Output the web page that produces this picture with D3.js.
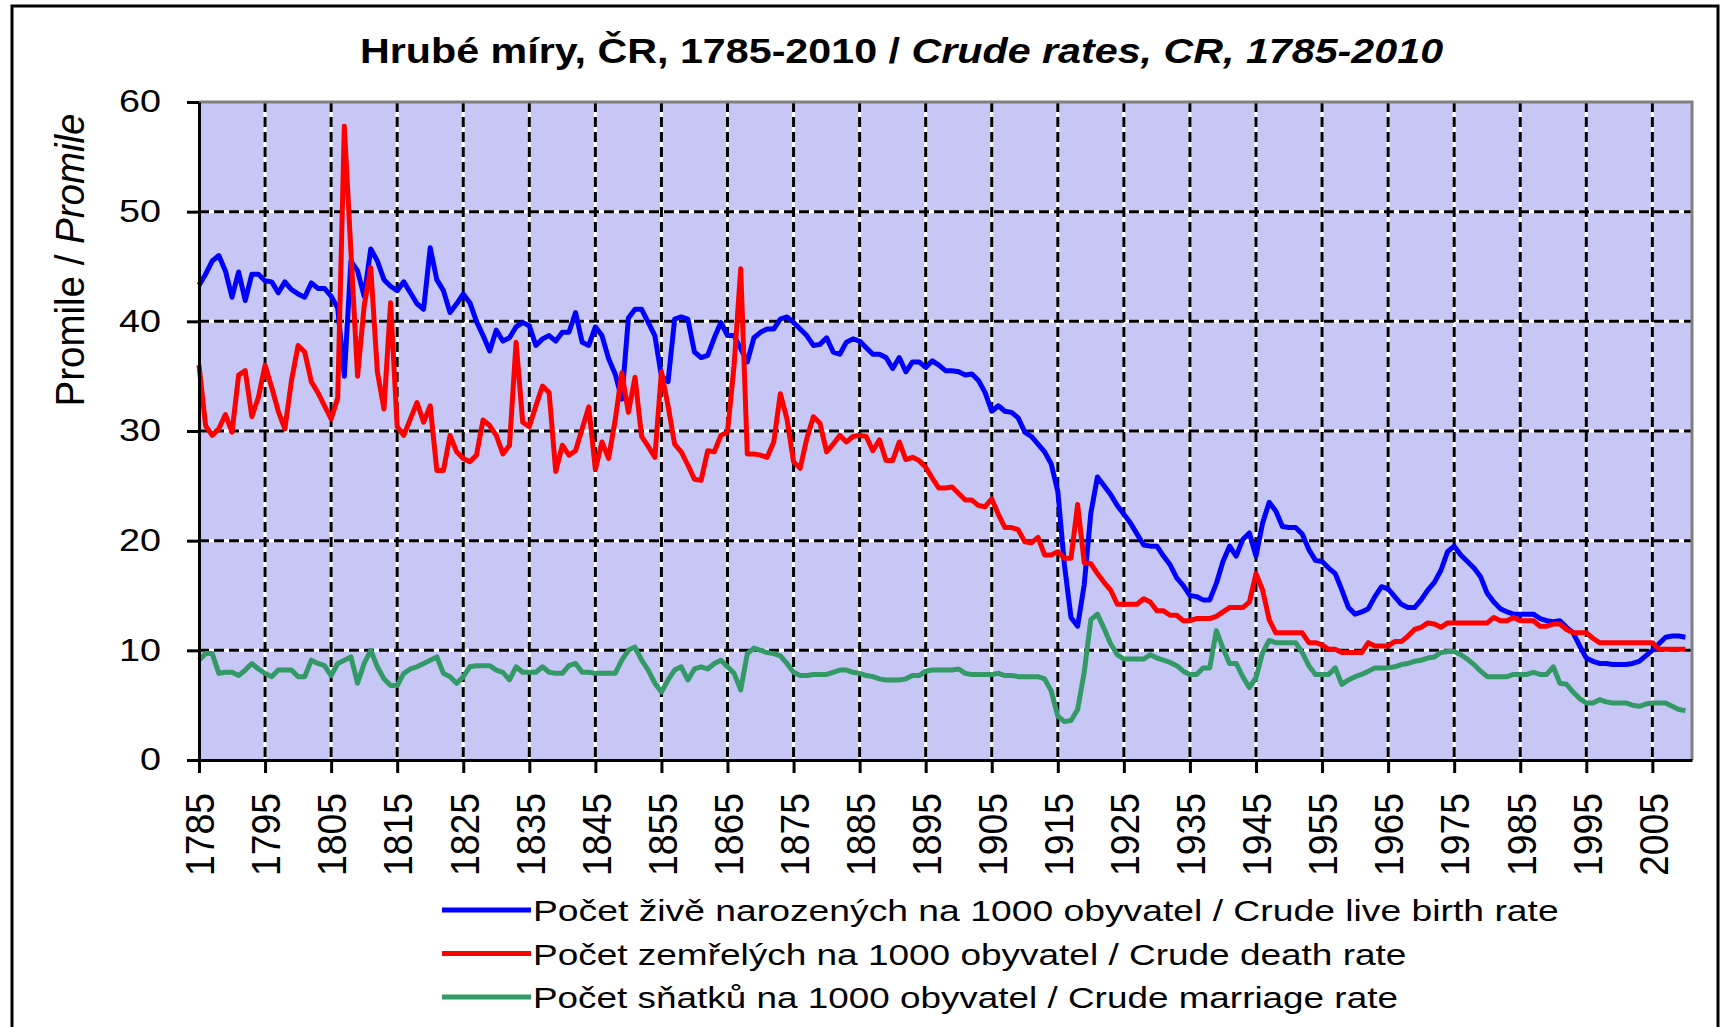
<!DOCTYPE html>
<html>
<head>
<meta charset="utf-8">
<script src="https://cdn.jsdelivr.net/npm/d3@7"></script>
<style>
  body { margin: 0; background: #fff; }
  text { font-family: "Liberation Sans", Arial, sans-serif; fill: #000; }
</style>
</head>
<body>
<div id="chart"></div>
<script>
/*********************************************
** Hrube miry, CR, 1785-2010
** one value per year, first value is 1785
**********************************************/
var firstYear = 1785;

var birthRate = [
  43.3, 44.3, 45.5, 46.0, 44.6, 42.2, 44.5, 41.9, 44.3, 44.3,
  43.7, 43.6, 42.6, 43.6, 42.9, 42.5, 42.2, 43.5, 43.0, 43.0,
  42.3, 41.2, 35.0, 45.5, 44.6, 42.3, 46.6, 45.5, 43.8, 43.2,
  42.8, 43.6, 42.6, 41.6, 41.1, 46.7, 43.8, 42.8, 40.8, 41.6,
  42.5, 41.7, 40.0, 38.7, 37.3, 39.2, 38.2, 38.5, 39.5, 39.9,
  39.6, 37.8, 38.4, 38.7, 38.2, 39.0, 39.0, 40.8, 38.1, 37.8,
  39.5, 38.7, 36.6, 35.2, 32.9, 40.3, 41.1, 41.1, 39.9, 38.7,
  35.0, 34.5, 40.2, 40.4, 40.2, 37.2, 36.7, 36.9, 38.5, 39.9,
  38.7, 38.7, 37.5, 36.3, 38.5, 39.0, 39.3, 39.3, 40.2, 40.4,
  39.9, 39.3, 38.7, 37.8, 37.9, 38.5, 37.2, 37.0, 38.1, 38.4,
  38.2, 37.6, 37.0, 37.0, 36.7, 35.7, 36.7, 35.4, 36.3, 36.3,
  35.8, 36.4, 36.0, 35.5, 35.5, 35.4, 35.1, 35.2, 34.6, 33.5,
  31.8, 32.3, 31.8, 31.7, 31.2, 29.9, 29.5, 28.8, 28.1, 27.0,
  24.5, 17.8, 13.0, 12.2, 16.0, 22.5, 25.8, 25.0, 24.2, 23.2,
  22.4, 21.6, 20.6, 19.6, 19.5, 19.5, 18.6, 17.8, 16.6, 15.9,
  15.0, 14.9, 14.6, 14.6, 16.1, 18.1, 19.5, 18.6, 20.1, 20.7,
  18.6, 21.6, 23.5, 22.7, 21.3, 21.2, 21.2, 20.6, 19.2, 18.2,
  18.1, 17.5, 17.0, 15.5, 13.9, 13.3, 13.5, 13.8, 14.9, 15.8,
  15.6, 14.9, 14.2, 13.9, 13.9, 14.6, 15.5, 16.2, 17.3, 19.0,
  19.5, 18.7, 18.1, 17.5, 16.7, 15.2, 14.4, 13.8, 13.5, 13.3,
  13.3, 13.3, 13.3, 12.9, 12.7, 12.6, 12.7, 12.1, 11.6, 10.4,
  9.3, 9.0, 8.8, 8.8, 8.7, 8.7, 8.7, 8.8, 9.0, 9.5,
  10.0, 10.6, 11.2, 11.3, 11.3, 11.2
];

var deathRate = [
  36.0, 30.5, 29.6, 30.2, 31.5, 29.9, 35.1, 35.5, 31.3, 33.1,
  36.0, 34.0, 31.8, 30.2, 34.6, 37.8, 37.2, 34.5, 33.5, 32.3,
  31.1, 33.0, 57.8, 46.3, 35.0, 41.4, 44.9, 35.4, 32.0, 41.7,
  30.4, 29.6, 31.1, 32.6, 30.8, 32.3, 26.4, 26.4, 29.6, 28.1,
  27.5, 27.2, 27.8, 31.0, 30.5, 29.6, 27.9, 28.7, 38.1, 30.8,
  30.4, 32.3, 34.1, 33.5, 26.3, 28.7, 27.8, 28.2, 30.2, 32.2,
  26.5, 29.0, 27.5, 31.0, 35.3, 31.7, 34.9, 29.5, 28.6, 27.6,
  35.4, 32.3, 28.8, 28.1, 26.9, 25.6, 25.5, 28.2, 28.1, 29.6,
  29.9, 36.0, 44.8, 27.9, 27.9, 27.8, 27.6, 29.0, 33.4, 31.1,
  27.2, 26.6, 29.3, 31.3, 30.7, 28.1, 28.8, 29.6, 29.0, 29.5,
  29.6, 29.5, 28.2, 29.2, 27.3, 27.3, 29.0, 27.4, 27.6, 27.3,
  26.7, 25.7, 24.8, 24.8, 24.9, 24.3, 23.7, 23.7, 23.2, 23.1,
  23.8, 22.4, 21.2, 21.2, 21.0, 19.9, 19.8, 20.3, 18.7, 18.7,
  19.0, 18.4, 18.4, 23.3, 18.0, 17.9, 17.0, 16.2, 15.5, 14.2,
  14.2, 14.2, 14.2, 14.7, 14.4, 13.6, 13.6, 13.2, 13.2, 12.7,
  12.7, 12.9, 12.9, 12.9, 13.1, 13.5, 13.9, 13.9, 13.9, 14.4,
  17.0, 15.5, 12.8, 11.6, 11.6, 11.6, 11.6, 11.6, 10.7, 10.7,
  10.5, 10.1, 10.1, 9.8, 9.8, 9.8, 9.8, 10.7, 10.4, 10.4,
  10.4, 10.8, 10.8, 11.3, 11.9, 12.1, 12.5, 12.4, 12.1, 12.5,
  12.5, 12.5, 12.5, 12.5, 12.5, 12.5, 13.0, 12.7, 12.7, 13.0,
  12.7, 12.7, 12.7, 12.2, 12.2, 12.4, 12.4, 11.9, 11.6, 11.6,
  11.6, 11.1, 10.7, 10.7, 10.7, 10.7, 10.7, 10.7, 10.7, 10.7,
  10.7, 10.1, 10.1, 10.1, 10.1, 10.1
];

var marriageRate = [
  9.1, 9.7, 9.7, 7.9, 8.0, 8.0, 7.7, 8.2, 8.8, 8.3,
  7.9, 7.6, 8.2, 8.2, 8.2, 7.6, 7.6, 9.1, 8.8, 8.6,
  7.7, 8.8, 9.1, 9.4, 7.0, 8.8, 10.0, 8.5, 7.4, 6.8,
  6.8, 7.9, 8.3, 8.5, 8.8, 9.1, 9.4, 7.9, 7.6, 7.0,
  7.6, 8.5, 8.6, 8.6, 8.6, 8.2, 8.0, 7.3, 8.5, 8.0,
  8.0, 8.0, 8.5, 8.0, 7.9, 7.9, 8.6, 8.8, 8.0, 8.0,
  7.9, 7.9, 7.9, 7.9, 9.1, 10.0, 10.3, 9.1, 8.2, 7.0,
  6.2, 7.3, 8.2, 8.5, 7.3, 8.3, 8.5, 8.3, 8.8, 9.1,
  8.5, 7.9, 6.4, 9.7, 10.2, 10.0, 9.8, 9.7, 9.5, 8.8,
  8.0, 7.7, 7.7, 7.8, 7.8, 7.8, 8.0, 8.2, 8.2, 8.0,
  7.9, 7.7, 7.6, 7.4, 7.3, 7.3, 7.3, 7.4, 7.7, 7.7,
  8.1, 8.2, 8.2, 8.2, 8.2, 8.3, 7.9, 7.8, 7.8, 7.8,
  7.8, 7.9, 7.7, 7.7, 7.6, 7.6, 7.6, 7.6, 7.4, 6.3,
  4.0, 3.5, 3.6, 4.6, 8.0, 12.8, 13.3, 12.0, 10.6, 9.6,
  9.2, 9.2, 9.2, 9.2, 9.6, 9.3, 9.1, 8.9, 8.6, 8.1,
  7.8, 7.8, 8.4, 8.4, 11.8, 10.2, 8.8, 8.8, 7.6, 6.6,
  7.5, 9.8, 10.9, 10.7, 10.7, 10.7, 10.7, 9.8, 8.6, 7.8,
  7.8, 7.8, 8.4, 6.9, 7.3, 7.6, 7.8, 8.1, 8.4, 8.4,
  8.4, 8.5, 8.7, 8.8, 9.0, 9.1, 9.3, 9.4, 9.8, 9.9,
  9.9, 9.6, 9.2, 8.7, 8.1, 7.6, 7.6, 7.6, 7.6, 7.8,
  7.8, 7.8, 8.0, 7.8, 7.8, 8.5, 7.0, 6.9, 6.2, 5.6,
  5.2, 5.2, 5.5, 5.3, 5.2, 5.2, 5.2, 5.0, 4.9, 5.1,
  5.2, 5.2, 5.2, 4.9, 4.6, 4.5
];

var yTicks = [0, 10, 20, 30, 40, 50, 60];
var xTickYears = d3.range(1785, 2006, 10);

var seriesNames = [
  "Počet živě narozených na 1000 obyvatel / Crude live birth rate",
  "Počet zemřelých na 1000 obyvatel / Crude death rate",
  "Počet sňatků na 1000 obyvatel / Crude marriage rate"
];
var seriesColors = ["#0000ff", "#ff0000", "#339966"];

var titleParts = ["Hrubé míry, ČR, 1785-2010 / ", "Crude rates, CR, 1785-2010"];
var yTitleParts = ["Promile / ", "Promile"];


/**
* fitWidth
* [Returns the factor that stretches a text element along its own
direction so that it covers targetWidth pixels. The picture uses wide
pixel fonts.]
**/
function fitWidth(textSel, targetWidth){
  var w = textSel.node().getBBox().width;
  return targetWidth / w;
}

/**
* drawGridlines
* [Dashed black gridlines on a white line, like the Excel chart.]
**/
function drawGridlines(svg, lines){
  var g = svg.append("g");
  [["#fff", null], ["#000", "10,5"]].forEach(function(style){
    g.selectAll(null)
      .data(lines)
      .enter()
      .append("line")
      .attr("x1", function(d){ return d[0]; })
      .attr("y1", function(d){ return d[1]; })
      .attr("x2", function(d){ return d[2]; })
      .attr("y2", function(d){ return d[3]; })
      .attr("stroke", style[0])
      .attr("stroke-width", 3)
      .attr("stroke-dasharray", style[1]);
  });
}

function drawChart(){
  var width = 1725, height = 1027;
  var plot = {left: 199, right: 1692, top: 102, bottom: 760};

  var svg = d3.select("#chart")
    .append("svg")
    .attr("width", width)
    .attr("height", height);

  // chart frame
  svg.append("rect")
    .attr("x", 12).attr("y", 6)
    .attr("width", 1706).attr("height", 1040)
    .attr("fill", "#fff")
    .attr("stroke", "#000")
    .attr("stroke-width", 3);

  // category axis: one slot per year
  var x = d3.scaleLinear()
    .domain([firstYear, firstYear + birthRate.length])
    .range([plot.left, plot.right]);

  var y = d3.scaleLinear()
    .domain([0, 60])
    .range([plot.bottom, plot.top]);

  svg.append("rect")
    .attr("x", plot.left).attr("y", plot.top)
    .attr("width", plot.right - plot.left)
    .attr("height", plot.bottom - plot.top)
    .attr("fill", "#c7c7f5");

  var grid = [];
  yTicks.filter(function(v){ return v > 0 && v < 60; }).forEach(function(v){
    grid.push([plot.left, y(v), plot.right, y(v)]);
  });
  xTickYears.filter(function(v){ return v > firstYear; }).forEach(function(v){
    grid.push([x(v), plot.top, x(v), plot.bottom]);
  });
  drawGridlines(svg, grid);

  // series, in the Excel order (later ones on top)
  var line = d3.line()
    .x(function(d, i){ return x(firstYear + i); })
    .y(function(d){ return y(d); });

  [birthRate, deathRate, marriageRate].forEach(function(series, k){
    svg.append("path")
      .datum(series)
      .attr("d", line)
      .attr("fill", "none")
      .attr("stroke", seriesColors[k])
      .attr("stroke-width", 5)
      .attr("stroke-linejoin", "round");
  });

  // grey top and right edge of the plot area
  svg.append("path")
    .attr("d", "M" + plot.left + "," + plot.top + "H" + plot.right + "V" + plot.bottom)
    .attr("fill", "none")
    .attr("stroke", "#808080")
    .attr("stroke-width", 3);

  // value axis
  var yAxis = svg.append("g")
    .attr("transform", "translate(" + plot.left + ",0)")
    .call(d3.axisLeft(y)
      .tickValues(yTicks)
      .tickSize(12)
      .tickPadding(26)
      .tickSizeOuter(0)
      .tickFormat(d3.format("d")));

  yAxis.selectAll("path, line").attr("stroke", "#000").attr("stroke-width", 3);
  yAxis.selectAll("text")
    .attr("font-size", 31)
    .attr("font-family", null)
    .attr("fill", "#000")
    .attr("textLength", function(d){ return String(d).length * 21; })
    .attr("lengthAdjust", "spacingAndGlyphs");

  // category axis, labels every 10 years
  var xAxis = svg.append("g")
    .attr("transform", "translate(0," + plot.bottom + ")")
    .call(d3.axisBottom(x)
      .tickValues(xTickYears)
      .tickSize(13)
      .tickSizeOuter(0)
      .tickFormat(d3.format("d")));

  xAxis.selectAll("path, line").attr("stroke", "#000").attr("stroke-width", 3);
  xAxis.selectAll("text")
    .attr("transform", "rotate(-90)")
    .attr("x", -33)
    .attr("y", 0)
    .attr("dy", "0.36em")
    .attr("text-anchor", "end")
    .attr("font-size", 41)
    .attr("font-family", null)
    .attr("fill", "#000")
    .attr("textLength", 83)
    .attr("lengthAdjust", "spacingAndGlyphs");

  // title
  var title = svg.append("text")
    .attr("font-size", 35)
    .attr("font-weight", "bold");
  title.append("tspan").text(titleParts[0]);
  title.append("tspan").attr("font-style", "italic").text(titleParts[1]);
  var sTitle = fitWidth(title, 1084);
  title.attr("transform", "translate(360,63) scale(" + sTitle + ",1)");

  // value axis title
  var yTitle = svg.append("text")
    .attr("font-size", 40)
    .attr("text-anchor", "middle");
  yTitle.append("tspan").text(yTitleParts[0]);
  yTitle.append("tspan").attr("font-style", "italic").text(yTitleParts[1]);
  var sY = fitWidth(yTitle, 293);
  yTitle.attr("transform", "translate(84,260) rotate(-90) scale(" + sY + ",1)");

  // legend
  var legendRows = [910, 953.5, 997];
  var legendWidths = [1026, 874, 865];
  seriesNames.forEach(function(name, k){
    svg.append("line")
      .attr("x1", 442).attr("x2", 531)
      .attr("y1", legendRows[k]).attr("y2", legendRows[k])
      .attr("stroke", seriesColors[k])
      .attr("stroke-width", 5);
    var t = svg.append("text")
      .attr("font-size", 30)
      .text(name);
    var s = fitWidth(t, legendWidths[k]);
    t.attr("transform", "translate(533," + (legendRows[k] + 11) + ") scale(" + s + ",1)");
  });
}

drawChart();
</script>
</body>
</html>
